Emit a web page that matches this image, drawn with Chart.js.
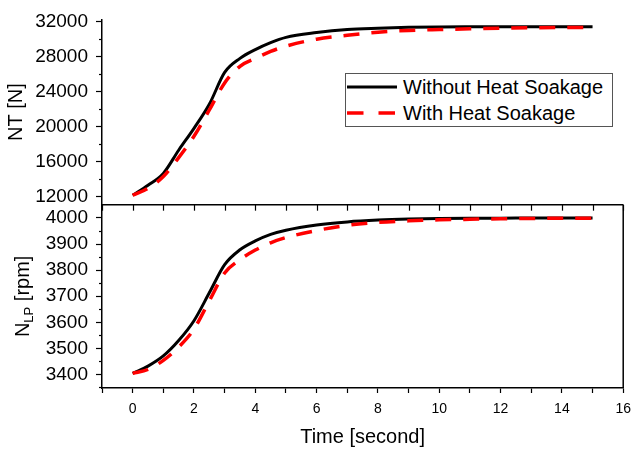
<!DOCTYPE html>
<html>
<head>
<meta charset="utf-8">
<script src="https://cdn.jsdelivr.net/npm/chart.js@4.4.0/dist/chart.umd.min.js"></script>
<style>
  body { margin: 0; background: #fff; }
  #wrap { position: relative; width: 639px; height: 449px; }
  #legend {
    position: absolute; left: 345px; top: 73px; width: 266px; height: 52px;
    border: 1px solid #555; background: #fff;
    font-family: "Liberation Sans", Arial, sans-serif; font-size: 20px; color: #000;
  }
  #legend .row { position: absolute; left: 0; height: 26px; display: flex; align-items: center; white-space: nowrap; }
  #legend svg { margin-left: 1px; margin-right: 4px; }
</style>
</head>
<body>
<div id="wrap">
  <canvas id="chart" width="639" height="449"></canvas>
  <!-- legend sits inside the upper panel -->
  <div id="legend">
    <div class="row" style="top: 0px;">
      <svg width="52" height="8"><line x1="0" y1="4" x2="50" y2="4" stroke="#000" stroke-width="3"/></svg>
      <span>Without Heat Soakage</span>
    </div>
    <div class="row" style="top: 26px;">
      <svg width="52" height="8"><line x1="0" y1="4" x2="50" y2="4" stroke="#ff0000" stroke-width="3.5" stroke-dasharray="16.5 15"/></svg>
      <span>With Heat Soakage</span>
    </div>
  </div>
</div>
<script>
// time axis samples (s)
const timeS = [0, 0.5, 1, 1.5, 2, 2.5, 3, 3.5, 4, 4.5, 5, 6, 7, 8, 9, 10, 11, 12, 13, 14, 15];

// net thrust NT [N]
const ntWithout = [12150, 13300, 14650, 17300, 19800, 22550, 26200, 27800, 28800, 29600, 30200, 30750, 31100, 31250, 31350, 31400, 31420, 31430, 31430, 31430, 31420];
const ntWith    = [12150, 12950, 14300, 16450, 18900, 21900, 25000, 26900, 27800, 28600, 29200, 30000, 30450, 30800, 31000, 31100, 31180, 31250, 31300, 31330, 31350];

// low pressure spool speed N_LP [rpm]
const nlpWithout = [3404, 3432, 3471, 3530, 3606, 3713, 3821, 3878, 3912, 3937, 3953, 3973, 3985, 3992, 3996, 3998, 3999, 3999, 4000, 4000, 4000];
const nlpWith    = [3404, 3419, 3454, 3505, 3574, 3682, 3789, 3840, 3877, 3905, 3925, 3952, 3972, 3983, 3989, 3993, 3995, 3997, 3998, 3999, 3999];

// ticks
const timeTicks = [-1, 0, 1, 2, 3, 4, 5, 6, 7, 8, 9, 10, 11, 12, 13, 14, 15, 16];
const ntTicks = [12000, 16000, 20000, 24000, 28000, 32000];
const ntMinor = [14000, 18000, 22000, 26000, 30000];
const nlpTicks = [3400, 3500, 3600, 3700, 3800, 3900, 4000];
const nlpMinor = [3350, 3450, 3550, 3650, 3750, 3850, 3950];

const FONT = '"Liberation Sans", Arial, sans-serif';
Chart.defaults.font.family = FONT;
Chart.defaults.color = '#000';

const pts = (ys) => timeS.map((t, i) => ({ x: t, y: ys[i] }));

// frame pieces Chart.js does not draw: panel divider, right border, inner ticks, minor ticks, N_LP title
const framePlugin = {
  id: 'frame',
  afterDraw(chart) {
    const { ctx, chartArea: a, scales } = chart;
    const xs = scales.x, yt = scales.yNT, yb = scales.yNLP;
    const line = (x1, y1, x2, y2) => { ctx.beginPath(); ctx.moveTo(x1, y1); ctx.lineTo(x2, y2); ctx.stroke(); };
    ctx.save();
    ctx.strokeStyle = '#000';
    ctx.lineWidth = 1.5;
    line(a.left, yb.top, a.right, yb.top);
    line(a.right, yb.top, a.right, yb.bottom);
    ctx.lineWidth = 1.2;
    timeTicks.forEach(v => {
      const px = Math.round(xs.getPixelForValue(v)) + 0.5;
      line(px, yb.top, px, yb.top + 6);
    });
    ntMinor.forEach(v => {
      const py = Math.round(yt.getPixelForValue(v)) + 0.5;
      line(yt.right - 3, py, yt.right, py);
    });
    nlpMinor.forEach(v => {
      const py = Math.round(yb.getPixelForValue(v)) + 0.5;
      line(yb.right - 3, py, yb.right, py);
    });

    // N_LP [rpm] with subscript
    ctx.fillStyle = '#000';
    ctx.translate(28.5, (yb.top + yb.bottom) / 2);
    ctx.rotate(-Math.PI / 2);
    ctx.textBaseline = 'alphabetic';
    const big = '20px ' + FONT, small = '13px ' + FONT;
    ctx.font = big;
    const wN = ctx.measureText('N').width;
    const wRest = ctx.measureText(' [rpm]').width;
    ctx.font = small;
    const wSub = ctx.measureText('LP').width;
    let x0 = -(wN + wSub + wRest) / 2;
    ctx.font = big;
    ctx.fillText('N', x0, 0);
    ctx.font = small;
    ctx.fillText('LP', x0 + wN, 4);
    ctx.font = big;
    ctx.fillText(' [rpm]', x0 + wN + wSub, 0);
    ctx.restore();
  }
};

const yTickOpts = {
  font: { size: 19 },
  color: '#000',
  padding: 8,
  autoSkip: false,
  callback: v => String(v)
};

new Chart(document.getElementById('chart'), {
  type: 'line',
  data: {
    datasets: [
      { label: 'With Heat Soakage', data: pts(ntWith), yAxisID: 'yNT', borderColor: '#ff0000', borderWidth: 3.5, borderDash: [16, 12], order: 0 },
      { label: 'Without Heat Soakage', data: pts(ntWithout), yAxisID: 'yNT', borderColor: '#000', borderWidth: 3, order: 1 },
      { label: 'With Heat Soakage', data: pts(nlpWith), yAxisID: 'yNLP', borderColor: '#ff0000', borderWidth: 3.5, borderDash: [16, 12], order: 0 },
      { label: 'Without Heat Soakage', data: pts(nlpWithout), yAxisID: 'yNLP', borderColor: '#000', borderWidth: 3, order: 1 }
    ]
  },
  options: {
    responsive: false,
    animation: false,
    layout: { padding: { top: 15, right: 7, left: 0, bottom: 0 } },
    elements: {
      point: { radius: 0 },
      line: { cubicInterpolationMode: 'monotone', fill: false, borderCapStyle: 'butt' }
    },
    plugins: { legend: { display: false }, tooltip: { enabled: false } },
    scales: {
      x: {
        type: 'linear', position: 'bottom', min: -1, max: 16,
        afterBuildTicks: s => { s.ticks = timeTicks.map(v => ({ value: v })); },
        afterFit: s => { s.height = 61; },
        ticks: {
          font: { size: 14 }, color: '#000', padding: 8, maxRotation: 0, autoSkip: false,
          callback: v => (v >= 0 && v % 2 === 0) ? String(v) : ''
        },
        grid: { drawOnChartArea: false, tickLength: 5, tickColor: '#000', tickWidth: 1.2 },
        border: { color: '#000', width: 1.5 },
        title: { display: true, text: 'Time [second]', font: { size: 20 }, color: '#000', padding: { top: 0, bottom: 0 } }
      },
      // stacked layout places the later left scale on top, so the lower panel is listed first
      yNLP: {
        type: 'linear', position: 'left', stack: 'panels', stackWeight: 185.5,
        min: 3348, max: 4051,
        afterBuildTicks: s => { s.ticks = nlpTicks.map(v => ({ value: v })); },
        afterFit: s => { s.width = 102; },
        ticks: yTickOpts,
        grid: { drawOnChartArea: false, tickLength: 6, tickColor: '#000', tickWidth: 1.2 },
        border: { color: '#000', width: 1.5 },
        title: { display: false }
      },
      yNT: {
        type: 'linear', position: 'left', stack: 'panels', stackWeight: 187.5,
        min: 11073, max: 32260,
        afterBuildTicks: s => { s.ticks = ntTicks.map(v => ({ value: v })); },
        afterFit: s => { s.width = 102; },
        ticks: yTickOpts,
        grid: { drawOnChartArea: false, tickLength: 6, tickColor: '#000', tickWidth: 1.2 },
        border: { color: '#000', width: 1.5 },
        title: { display: true, text: 'NT [N]', font: { size: 20 }, color: '#000' }
      }
    }
  },
  plugins: [framePlugin]
});
</script>
</body>
</html>
